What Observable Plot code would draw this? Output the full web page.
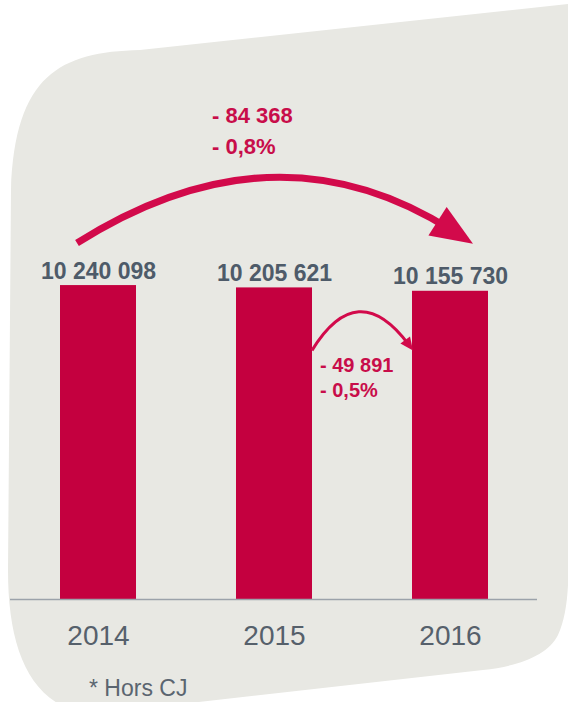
<!DOCTYPE html>
<html><head><meta charset="utf-8">
<script src="https://cdn.jsdelivr.net/npm/d3@7"></script>
<script src="https://cdn.jsdelivr.net/npm/@observablehq/plot@0.6"></script>
<style>
html,body{margin:0;padding:0;background:#fff;overflow:hidden}
#wrap{position:relative;width:568px;height:702px;font-family:"Liberation Sans",Arial,sans-serif;overflow:hidden}
#bg{position:absolute;left:0;top:0}
#chart{position:absolute;left:0;top:0}
#foot{position:absolute;left:89px;top:675px;font-size:23px;line-height:26px;color:#5b6570;white-space:nowrap}
</style></head><body>
<div id="wrap">
<svg id="bg" width="568" height="702"><path d="M568,4 L140,50 C60,52 15,75 11,190 L8,570 C8,650 30,705 90,715 L110,712 L483,670 C520,666 548,655 558,635 C564,622 567,605 568,585 Z" fill="#e8e8e3"/></svg>
<div id="chart"></div>
<div id="foot"></div>
</div>
<script>
// data
const years = ["2014", "2015", "2016"];
const values = [10240098, 10205621, 10155730];
const valueLabels = ["10 240 098", "10 205 621", "10 155 730"];
const changeFrom = ["2014", "2015"];
const changeTo = ["2016", "2016"];
const changeAbs = ["- 84 368", "- 49 891"];
const changePct = ["- 0,8%", "- 0,5%"];
const footnote = "* Hors CJ";
const yMin = 5600000, yMax = 12000000;

const data = years.map((y, i) => ({year: y, value: values[i], label: valueLabels[i]}));
const changes = changeFrom.map((f, i) => ({from: f, to: changeTo[i], abs: changeAbs[i], pct: changePct[i]}));
const valueOf = Object.fromEntries(years.map((y, i) => [y, values[i]]));

const barColor = "#c4003f";
const arrowColor = "#d20a4b";
const annColor = "#c80d4a";

function annotations(index, scales) {
  const sx = scales.x, sy = scales.y;
  const bw = typeof sx.bandwidth === "function" ? sx.bandwidth() : 76;
  const ns = "http://www.w3.org/2000/svg";
  const g = document.createElementNS(ns, "g");
  changes.forEach((c, i) => {
    let x0, y0, x2, y2, cx, cy, sw, hl, hw, tx, ty, fs, lh;
    const yf = sy(valueOf[c.from]), yt = sy(valueOf[c.to]);
    if (i === 0) {
      x0 = sx(c.from) + 17; y0 = yf - 42;
      x2 = sx(c.to) + 61; y2 = yt - 47;
      cx = (x0 + x2) / 2; cy = Math.min(y0, y2) - 125;
      sw = 7; hl = 42; hw = 17;
      tx = cx - 63; ty = cy + 5; fs = 22; lh = 31;
    } else {
      x0 = sx(c.from) + bw; y0 = yf + 63;
      x2 = sx(c.to) + 1; y2 = y0;
      cx = (x0 + x2) / 2 - 5; cy = y0 - 74;
      sw = 3; hl = 13; hw = 6;
      tx = x0 + 8; ty = y0 + 22; fs = 20; lh = 25;
    }
    let dx = x2 - cx, dy = y2 - cy;
    const L = Math.hypot(dx, dy); dx /= L; dy /= L;
    const ex = x2 - dx * hl * 0.6, ey = y2 - dy * hl * 0.6;
    const p = document.createElementNS(ns, "path");
    p.setAttribute("d", `M${x0},${y0} Q${cx},${cy} ${ex},${ey}`);
    p.setAttribute("fill", "none");
    p.setAttribute("stroke", arrowColor);
    p.setAttribute("stroke-width", sw);
    g.appendChild(p);
    const bx = x2 - dx * hl, by = y2 - dy * hl;
    const px = -dy, py = dx;
    const h = document.createElementNS(ns, "path");
    h.setAttribute("d", `M${x2},${y2} L${bx + px * hw},${by + py * hw} L${bx - px * hw},${by - py * hw} Z`);
    h.setAttribute("fill", arrowColor);
    g.appendChild(h);
    const t = document.createElementNS(ns, "text");
    t.setAttribute("fill", annColor);
    t.setAttribute("font-size", fs);
    t.setAttribute("font-weight", "bold");
    t.setAttribute("text-anchor", "start");
    [c.abs, c.pct].forEach((s, k) => {
      const ts = document.createElementNS(ns, "tspan");
      ts.setAttribute("x", tx);
      ts.setAttribute("y", ty + k * lh);
      ts.textContent = s;
      t.appendChild(ts);
    });
    g.appendChild(t);
  });
  return g;
}

const chart = Plot.plot({
  width: 568,
  height: 702,
  marginLeft: 10,
  marginRight: 31,
  marginTop: 166,
  marginBottom: 103,
  style: {background: "transparent", fontFamily: "'Liberation Sans', Arial, sans-serif", overflow: "visible"},
  x: {domain: years, paddingInner: 0.57, paddingOuter: 0.28, axis: null},
  y: {domain: [yMin, yMax], axis: null},
  marks: [
    Plot.barY(data, {x: "year", y1: d => yMin, y2: "value", fill: barColor}),
    Plot.ruleY([yMin], {stroke: "#9ba2aa", strokeWidth: 1.5}),
    Plot.text(data, {x: "year", y: "value", text: "label", dy: -7, lineAnchor: "bottom", fontSize: 23, fontWeight: "bold", fill: "#4e5b69"}),
    Plot.axisX({tickSize: 0, tickPadding: 26, fontSize: 28, color: "#56606b", label: null}),
    annotations
  ]
});
document.getElementById("chart").appendChild(chart);
document.getElementById("foot").textContent = footnote;
</script>
</body></html>
